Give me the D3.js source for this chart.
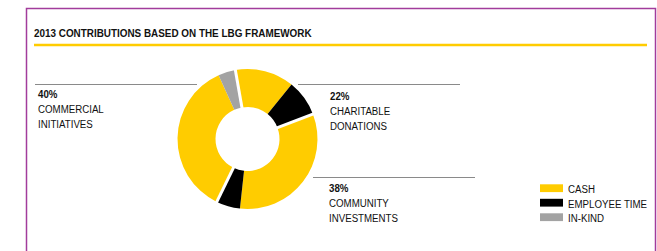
<!DOCTYPE html>
<html><head><meta charset="utf-8">
<script src="https://cdn.jsdelivr.net/npm/d3@7"></script>
<style>
html,body{margin:0;padding:0;background:#fff;}
svg{display:block;font-family:"Liberation Sans Narrow","Arial Narrow","Liberation Sans",Arial,sans-serif;}
</style></head>
<body>
<svg id="c" width="657" height="251"></svg>
<script>
const title = "2013 CONTRIBUTIONS BASED ON THE LBG FRAMEWORK";
const groups = ["CHARITABLE DONATIONS", "COMMUNITY INVESTMENTS", "COMMERCIAL INITIATIVES"];
const groupPercents = ["22%", "38%", "40%"];
const types = ["CASH", "EMPLOYEE TIME", "IN-KIND"];
const typeColors = ["#ffcc00", "#000000", "#a3a3a3"];
// segments clockwise starting from just left of 12 o'clock
const segGroup = ["CHARITABLE DONATIONS","CHARITABLE DONATIONS","COMMUNITY INVESTMENTS","COMMUNITY INVESTMENTS","COMMERCIAL INITIATIVES","COMMERCIAL INITIATIVES"];
const segType  = ["CASH","EMPLOYEE TIME","CASH","EMPLOYEE TIME","CASH","IN-KIND"];
const segValue = [13.6, 8.4, 32.5, 5.5, 36, 4];

const svg = d3.select("#c");
const SQUEEZE = 0.845;
// draw a horizontally condensed text (emulating a narrow typeface)
function narrowText(parent, x, y, str, weight, sx) {
  return parent.append("text")
    .attr("transform", `translate(${x},${y}) scale(${sx || SQUEEZE},1)`)
    .attr("font-size", 11.5).attr("font-weight", weight || "normal").attr("fill", "#111")
    .text(str);
}

// frame
svg.append("path").attr("d","M26.5,251 V8.5 H655.5 V251").attr("fill","none").attr("stroke","#a23c9c").attr("stroke-width",1.5);
const tt = narrowText(svg, 34, 37, title, "bold", 1);
const tw = tt.node().getComputedTextLength();
tt.attr("transform", `translate(34,37) scale(${278 / tw},1)`);
svg.append("line").attr("x1",34).attr("x2",647).attr("y1",45).attr("y2",45).attr("stroke","#ffcc00").attr("stroke-width",2.5);

const cx = 247.5, cy = 139, rOut = 70, rIn = 32;
const color = d3.scaleOrdinal().domain(types).range(typeColors);
const start = -10 * Math.PI / 180;
const idx = d3.range(segValue.length);
const pie = d3.pie().sort(null).value(i => segValue[i]).startAngle(start).endAngle(start + 2*Math.PI);
const arcs = pie(idx);
const arc = d3.arc().innerRadius(rIn).outerRadius(rOut);
const g = svg.append("g").attr("transform",`translate(${cx},${cy})`);
g.selectAll("path").data(arcs).join("path").attr("d",arc).attr("fill",d => color(segType[d.data]));
// white separators between groups
arcs.forEach((d,k) => {
  const next = arcs[(k+1)%arcs.length];
  if (segGroup[d.data] !== segGroup[next.data]) {
    const a = d.endAngle;
    g.append("line")
      .attr("x1",(rIn-2)*Math.sin(a)).attr("y1",-(rIn-2)*Math.cos(a))
      .attr("x2",(rOut+2)*Math.sin(a)).attr("y2",-(rOut+2)*Math.cos(a))
      .attr("stroke","#fff").attr("stroke-width",3);
  }
});

// labels
const labelPos = {
  "COMMERCIAL INITIATIVES": {lx1:35, lx2:197, ly:84.5, tx:38, ty:98},
  "CHARITABLE DONATIONS": {lx1:298, lx2:460, ly:84.5, tx:330, ty:100},
  "COMMUNITY INVESTMENTS": {lx1:313, lx2:475, ly:177.5, tx:329, ty:191.5}
};
groups.forEach((gname,i) => {
  const p = labelPos[gname];
  svg.append("line").attr("x1",p.lx1).attr("x2",p.lx2).attr("y1",p.ly).attr("y2",p.ly).attr("stroke","#8a8a8a").attr("stroke-width",1);
  narrowText(svg, p.tx, p.ty, groupPercents[i], "bold");
  gname.split(" ").forEach((w,j) => {
    narrowText(svg, p.tx, p.ty + 15*(j+1), w);
  });
});

// legend
const leg = svg.append("g").attr("transform","translate(540,184.3)");
types.forEach((ty,i) => {
  leg.append("rect").attr("x",0).attr("y",i*14.5).attr("width",23).attr("height",7.8).attr("fill",color(ty));
  narrowText(leg, 28, i*14.5+8.8, ty);
});
</script>
</body></html>
